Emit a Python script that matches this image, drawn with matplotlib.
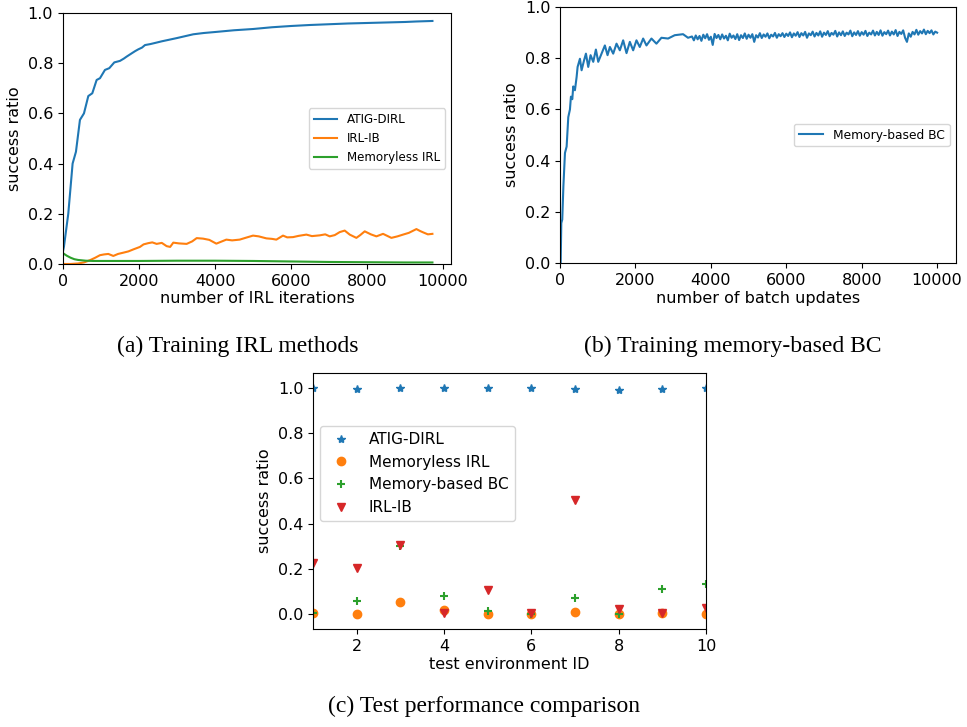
import matplotlib
matplotlib.use('Agg')
import matplotlib.pyplot as plt

# (a) courbes d'entrainement IRL
atig_x = [0, 26, 140, 254, 342, 447, 553, 667, 772, 886, 974, 1105, 1219, 1351, 1500,
          1600, 1675, 1807, 1900, 1982, 2080, 2158, 2300, 2465, 2600, 2816, 3000, 3200, 3430,
          3700, 4000, 4500, 5000, 5500, 6000, 6500, 7000, 7500, 8000, 8500, 9000, 9300, 9720]
atig_y = [0.05, 0.069, 0.20, 0.40, 0.447, 0.574, 0.60, 0.669, 0.68, 0.733, 0.74, 0.773, 0.78,
          0.803, 0.809, 0.818, 0.826, 0.839, 0.848, 0.855, 0.862, 0.872, 0.876, 0.882, 0.887,
          0.894, 0.900, 0.907, 0.915, 0.920, 0.924, 0.931, 0.936, 0.943, 0.948, 0.952, 0.955,
          0.958, 0.960, 0.962, 0.964, 0.966, 0.968]

irlib_x = [0, 200, 400, 550, 710, 850, 974, 1080, 1193, 1325, 1450, 1588, 1720, 1851, 2026,
           2120, 2246, 2350, 2465, 2600, 2728, 2820, 2903, 3050, 3254, 3400, 3518, 3684, 3850,
           4035, 4150, 4298, 4450, 4649, 4800, 5000, 5150, 5351, 5500, 5614, 5789, 5900, 6053,
           6200, 6404, 6550, 6754, 6900, 7018, 7150, 7281, 7412, 7544, 7719, 7820, 7939, 8100,
           8246, 8421, 8530, 8640, 8800, 8947, 9100, 9298, 9400, 9474, 9600, 9719]
irlib_y = [0.0, 0.0, 0.002, 0.006, 0.015, 0.025, 0.035, 0.038, 0.040, 0.032, 0.040, 0.045,
           0.050, 0.058, 0.068, 0.078, 0.083, 0.086, 0.080, 0.084, 0.071, 0.068, 0.085, 0.082,
           0.080, 0.090, 0.103, 0.101, 0.096, 0.081, 0.088, 0.097, 0.094, 0.097, 0.104, 0.113,
           0.110, 0.102, 0.100, 0.097, 0.113, 0.106, 0.107, 0.112, 0.117, 0.111, 0.114, 0.118,
           0.110, 0.115, 0.127, 0.133, 0.117, 0.104, 0.115, 0.130, 0.118, 0.110, 0.120, 0.112,
           0.104, 0.110, 0.117, 0.124, 0.139, 0.131, 0.126, 0.118, 0.120]

memless_x = [0, 100, 200, 300, 400, 600, 800, 1000, 1500, 2000, 3000, 4000, 5000, 6000,
             7000, 8000, 9000, 9720]
memless_y = [0.043, 0.033, 0.025, 0.019, 0.016, 0.013, 0.012, 0.012, 0.012, 0.012, 0.013,
             0.013, 0.012, 0.010, 0.008, 0.007, 0.006, 0.006]

# (b) BC avec memoire
bc_x = [0, 18, 35, 60, 90, 132, 176, 220, 264, 290, 326, 352, 396, 441, 467, 529, 573, 635,
        688, 749, 811, 882, 952, 1014, 1102, 1190, 1261, 1323, 1411, 1499, 1587, 1675, 1764,
        1852, 1940, 2028, 2116, 2205, 2293, 2425, 2557, 2690, 2866, 3042, 3263, 3395,
        3500, 3550, 3600, 3650, 3700, 3750, 3800, 3850, 3900, 3950,
        4000, 4050, 4100, 4150, 4200, 4250, 4300, 4350, 4400, 4450,
        4500, 4550, 4600, 4650, 4700, 4750, 4800, 4850, 4900, 4950,
        5000, 5050, 5100, 5150, 5200, 5250, 5300, 5350, 5400, 5450,
        5500, 5550, 5600, 5650, 5700, 5750, 5800, 5850, 5900, 5950,
        6000, 6050, 6100, 6150, 6200, 6250, 6300, 6350, 6400, 6450,
        6500, 6550, 6600, 6650, 6700, 6750, 6800, 6850, 6900, 6950,
        7000, 7050, 7100, 7150, 7200, 7250, 7300, 7350, 7400, 7450,
        7500, 7550, 7600, 7650, 7700, 7750, 7800, 7850, 7900, 7950,
        8000, 8050, 8100, 8150, 8200, 8250, 8300, 8350, 8400, 8450,
        8500, 8550, 8600, 8650, 8700, 8750, 8800, 8850, 8900, 8950,
        9000, 9050, 9100, 9150, 9200, 9250, 9300, 9350, 9400, 9450,
        9500, 9550, 9600, 9650, 9700, 9750, 9800, 9850, 9900, 9950,
        10000]
bc_y = [0.0, 0.0, 0.156, 0.17, 0.30, 0.43, 0.455, 0.57, 0.60, 0.65, 0.64, 0.69, 0.675, 0.727,
        0.766, 0.798, 0.753, 0.79, 0.818, 0.766, 0.812, 0.786, 0.834, 0.786, 0.818, 0.85,
        0.812, 0.844, 0.818, 0.857, 0.831, 0.87, 0.82, 0.864, 0.831, 0.87, 0.844, 0.877, 0.85,
        0.877, 0.857, 0.88, 0.877, 0.89, 0.894, 0.88,
        0.885, 0.870, 0.889, 0.874, 0.887, 0.868, 0.892, 0.878, 0.894, 0.872,
        0.884, 0.852, 0.895, 0.879, 0.891, 0.874, 0.893, 0.877, 0.888, 0.870,
        0.896, 0.880, 0.889, 0.875, 0.894, 0.871, 0.890, 0.879, 0.897, 0.876,
        0.892, 0.880, 0.894, 0.864, 0.890, 0.881, 0.898, 0.879, 0.893, 0.884,
        0.897, 0.878, 0.892, 0.885, 0.899, 0.880, 0.894, 0.886, 0.898, 0.883,
        0.896, 0.887, 0.901, 0.882, 0.897, 0.888, 0.902, 0.883, 0.898, 0.889,
        0.903, 0.880, 0.897, 0.890, 0.904, 0.885, 0.899, 0.889, 0.905, 0.884,
        0.900, 0.891, 0.906, 0.886, 0.899, 0.892, 0.907, 0.885, 0.901, 0.890,
        0.905, 0.887, 0.900, 0.893, 0.908, 0.886, 0.901, 0.891, 0.906, 0.888,
        0.902, 0.892, 0.907, 0.887, 0.900, 0.893, 0.908, 0.889, 0.903, 0.891,
        0.909, 0.888, 0.902, 0.894, 0.908, 0.889, 0.904, 0.893, 0.910, 0.887,
        0.903, 0.895, 0.909, 0.880, 0.864, 0.897, 0.884, 0.903, 0.893, 0.911,
        0.892, 0.906, 0.897, 0.912, 0.894, 0.907, 0.898, 0.909, 0.893, 0.904,
        0.900]

# (c) comparaison sur les environnements de test
env_ids = [1, 2, 3, 4, 5, 6, 7, 8, 9, 10]
test_atig = [1.0, 0.996, 1.0, 0.999, 0.999, 1.0, 0.997, 0.993, 0.996, 1.0]
test_memless = [0.004, 0.0, 0.052, 0.016, 0.0, 0.0, 0.01, 0.0, 0.003, 0.0]
test_bc = [0.003, 0.056, 0.303, 0.078, 0.012, 0.0, 0.072, 0.0, 0.112, 0.131]
test_irlib = [0.227, 0.204, 0.307, 0.003, 0.106, 0.004, 0.505, 0.024, 0.003, 0.027]

fs = 11.5

fig = plt.figure(figsize=(9.67, 7.27), dpi=100)

# --- (a)
ax1 = fig.add_axes([0.0651, 0.6369, 0.4012, 0.3453])
ax1.plot(atig_x, atig_y, color='C0', lw=1.5, label='ATIG-DIRL')
ax1.plot(irlib_x, irlib_y, color='C1', lw=1.5, label='IRL-IB')
ax1.plot(memless_x, memless_y, color='C2', lw=1.5, label='Memoryless IRL')
ax1.set_xlim(0, 10206)
ax1.set_ylim(0, 1.0)
ax1.set_xticks([0, 2000, 4000, 6000, 8000, 10000])
ax1.set_xlabel('number of IRL iterations', fontsize=fs, labelpad=2)
ax1.set_ylabel('success ratio', fontsize=fs)
ax1.tick_params(labelsize=fs)
ax1.legend(loc='center right', fontsize=8.6)

# --- (b)
ax2 = fig.add_axes([0.5791, 0.6382, 0.4095, 0.3521])
ax2.plot(bc_x, bc_y, color='C0', lw=1.5, label='Memory-based BC')
ax2.set_xlim(0, 10500)
ax2.set_ylim(0, 1.0)
ax2.set_xticks([0, 2000, 4000, 6000, 8000, 10000])
ax2.set_xlabel('number of batch updates', fontsize=fs, labelpad=2)
ax2.set_ylabel('success ratio', fontsize=fs)
ax2.tick_params(labelsize=fs)
ax2.legend(loc='center right', fontsize=8.8)

# --- (c)
ax3 = fig.add_axes([0.3237, 0.1348, 0.4064, 0.3521])
ax3.plot(env_ids, test_atig, '*', color='C0', label='ATIG-DIRL')
ax3.plot(env_ids, test_memless, 'o', color='C1', label='Memoryless IRL')
ax3.plot(env_ids, test_bc, '+', color='C2', mew=1.5, label='Memory-based BC')
ax3.plot(env_ids, test_irlib, 'v', color='C3', label='IRL-IB')
ax3.set_xlim(1, 10)
ax3.set_ylim(-0.066, 1.066)
ax3.set_xticks([2, 4, 6, 8, 10])
ax3.set_yticks([0.0, 0.2, 0.4, 0.6, 0.8, 1.0])
ax3.set_xlabel('test environment ID', fontsize=fs, labelpad=2)
ax3.set_ylabel('success ratio', fontsize=fs)
ax3.tick_params(labelsize=fs)
ax3.legend(loc='upper left', bbox_to_anchor=(0.018, 0.793), borderaxespad=0, fontsize=11)

# legendes des sous-figures
cap = dict(ha='center', va='center', fontsize=17, family='Liberation Serif')
fig.text(238 / 967, 1 - 346 / 727, '(a) Training IRL methods', **cap)
fig.text(733 / 967, 1 - 346 / 727, '(b) Training memory-based BC', **cap)
fig.text(484 / 967, 1 - 706 / 727, '(c) Test performance comparison', **cap)

fig.savefig('out.png', dpi=100)
